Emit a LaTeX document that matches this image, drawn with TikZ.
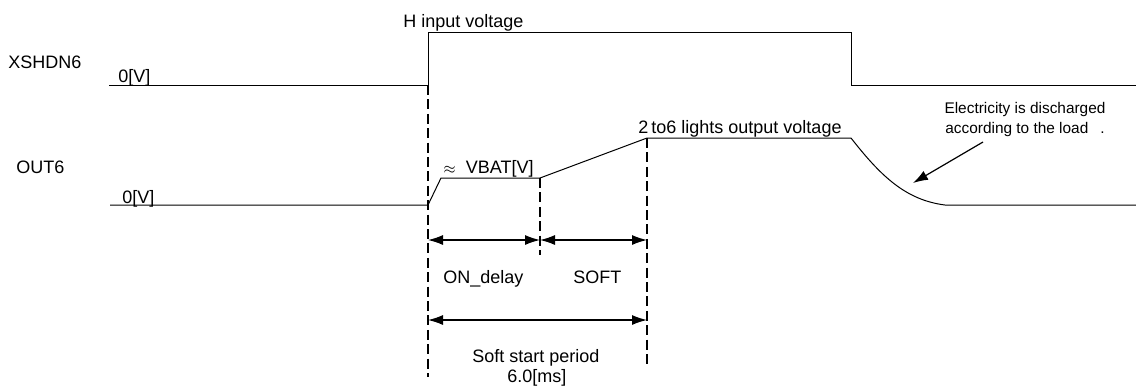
\documentclass[tikz,border=0pt]{standalone}
\usepackage{fontspec}
\setmainfont{Liberation Sans}
\usepackage{tikz}
\usetikzlibrary{arrows.meta}

\begin{document}
\begin{tikzpicture}[
		%Global config
		x=0.5pt, y=-0.5pt,
		>={Latex[length=7.5pt,width=5pt]},
		font=\fontsize{9}{11}\selectfont,
		%Styles
		signal/.style={
			line width=0.5pt,
			color=black,
		},
		guide/.style={
			line width=1.4pt,
			dash pattern=on 5pt off 2.2pt,
		},
		span/.style={
			<->,
			line width=0.6pt,
		},
		txt/.style={
			inner sep=0pt,
			anchor=base west,
		},
		note/.style={
			inner sep=0pt,
			align=center,
			font=\fontsize{7.7}{10}\selectfont,
		}
		]
		\useasboundingbox (0,0) rectangle (1136,387);

		% points of the waveforms
		\coordinate (xsL) at (109,85);
		\coordinate (xsUp) at (428,85);
		\coordinate (xsHi) at (428,32);
		\coordinate (xsOff) at (851,32);
		\coordinate (xsLo) at (851,85);
		\coordinate (xsR) at (1136,85);

		\coordinate (outL) at (110,205);
		\coordinate (outUp) at (428,205);
		\coordinate (vbatA) at (441,178);
		\coordinate (vbatB) at (540,178);
		\coordinate (softEnd) at (647,138);
		\coordinate (outOff) at (851,138);
		\coordinate (outLo) at (945,205);
		\coordinate (outR) at (1136,205);

		% waveforms
		\draw[signal] (xsL) -- (xsUp) -- (xsHi) -- (xsOff) -- (xsLo) -- (xsR);
		\draw[signal] (outL) -- (outUp) -- (vbatA) -- (vbatB) -- (softEnd) -- (outOff)
			.. controls (880,175) and (905,200) .. (outLo) -- (outR);

		% timing guides
		\coordinate (g0) at (428,377);
		\coordinate (g1) at (540,255);
		\coordinate (g2) at (647,368);
		\draw[guide] (xsUp) -- (g0);
		\draw[guide] (vbatB) -- (g1);
		\draw[guide] (softEnd) -- (g2);

		% spans
		\draw[span] (428,240) -- (540,240);
		\draw[span] (540,240) -- (647,240);
		\draw[span] (428,320) -- (647,320);

		% texts
		\node[txt] (xsName) at (8,68) {XSHDN6};
		\node[txt] (xsZero) at (118,82) {0[V]};
		\node[txt] (xsHigh) at (403,27) {H input voltage};
		\node[txt] (outName) at (16,173) {OUT6};
		\node[txt] (outZero) at (122,203) {0[V]};
		\node[txt] (vbat) at (443,173) {{\scriptsize$\approx$}\hspace{5pt}VBAT[V]};
		\node[txt] (outHigh) at (638,133) {2\hspace{1.5pt}to6 lights output voltage};
		\node[txt] (onDelay) at (443,283) {ON\_delay};
		\node[txt] (soft) at (573,283) {SOFT};
		\node[txt] (period) at (472,362) {Soft start period};
		\node[txt] (periodVal) at (507,382) {6.0[ms]};
		\node[note] (discharge) at (1025,120) {Electricity is discharged\\according to the load\hspace{6pt}.};

		\draw[->, line width=0.6pt] (983,142) -- (913,183);
	\end{tikzpicture}
\end{document}
